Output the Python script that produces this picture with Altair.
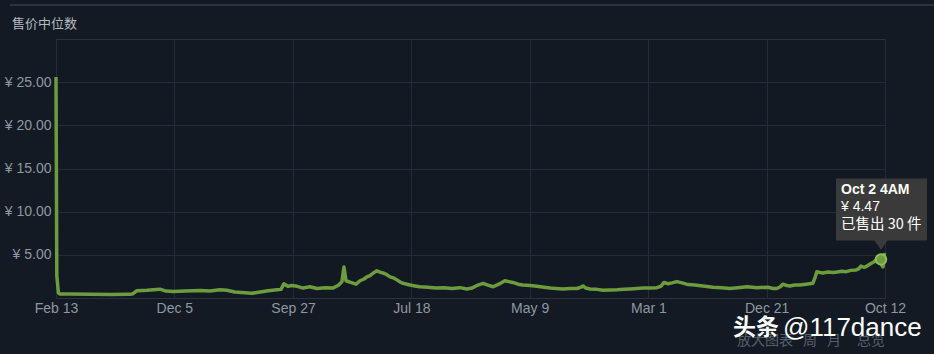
import altair as alt
import pandas as pd

# ---- data (days after 2018-02-13, median price in ¥) ----
start_date = "2018-02-13"
day_offsets = [0, 2, 6, 10, 35, 85, 135, 184, 192, 202, 227, 259, 274, 292, 322, 359, 384, 409, 426,
               446, 471, 489, 509, 529, 551, 561, 568, 578, 588, 601, 616, 633, 651, 671, 691, 705,
               713, 718, 723, 735, 748, 758, 768, 775, 783, 790, 800, 808, 815, 825, 833, 843, 850,
               858, 865, 875, 883, 895, 907, 927, 947, 967, 987, 1007, 1025, 1037, 1052, 1065, 1077,
               1090, 1104, 1119, 1129, 1139, 1152, 1164, 1182, 1199, 1217, 1232, 1246, 1264, 1281,
               1299, 1309, 1314, 1321, 1331, 1349, 1364, 1381, 1399, 1416, 1431, 1448, 1463, 1481,
               1498, 1508, 1516, 1526, 1536, 1548, 1561, 1576, 1593, 1613, 1638, 1660, 1680, 1700,
               1723, 1748, 1775, 1788, 1797, 1806, 1812, 1822, 1830, 1842, 1855, 1870, 1887, 1892,
               1897, 1905, 1912, 1925, 1937, 1947, 1960, 1970, 1982, 1995, 2002, 2007, 2015, 2022,
               2032, 2040, 2044, 2049, 2052, 2057, 2059, 2062, 2064, 2066]
prices = [25.6, 2.6, 0.6, 0.45, 0.45, 0.42, 0.40, 0.42, 0.5, 0.85, 0.9, 1.02, 0.8, 0.75, 0.82, 0.88,
          0.8, 0.95, 0.9, 0.7, 0.62, 0.55, 0.7, 0.85, 0.95, 1.0, 1.65, 1.35, 1.45, 1.35, 1.15, 1.3,
          1.1, 1.2, 1.15, 1.5, 1.9, 3.6, 2.0, 1.8, 1.6, 2.0, 2.2, 2.45, 2.6, 2.85, 3.15, 3.0, 2.9,
          2.7, 2.45, 2.3, 2.1, 1.85, 1.7, 1.6, 1.5, 1.4, 1.3, 1.25, 1.15, 1.2, 1.1, 1.2, 1.05, 1.15,
          1.5, 1.7, 1.5, 1.3, 1.6, 2.0, 1.9, 1.8, 1.6, 1.5, 1.45, 1.35, 1.25, 1.15, 1.1, 1.05, 1.1,
          1.1, 1.25, 1.4, 1.15, 1.05, 1.0, 0.9, 0.92, 0.95, 1.0, 1.05, 1.1, 1.15, 1.15, 1.2, 1.35,
          1.8, 1.65, 1.75, 1.9, 1.75, 1.55, 1.5, 1.4, 1.25, 1.2, 1.1, 1.2, 1.3, 1.2, 1.25, 1.1, 1.1,
          1.3, 1.6, 1.45, 1.4, 1.5, 1.5, 1.6, 1.7, 2.3, 3.05, 2.95, 2.9, 3.0, 2.95, 3.0, 3.1, 3.05,
          3.2, 3.25, 3.4, 3.7, 3.55, 3.7, 4.0, 4.2, 4.4, 4.5, 4.8, 4.47, 3.8, 3.6, 4.6, 5.2]

tick_dates = ["2018-02-13", "2018-12-05", "2019-09-27", "2020-07-18", "2021-05-09",
              "2022-03-01", "2022-12-21", "2023-10-12"]
y_ticks = [5, 10, 15, 20, 25]

hover_date = "2023-10-02"
hover_price = 4.47
hover_lines = ["Oct 2 4AM", "¥ 4.47", "已售出 30 件"]

title_text = "售价中位数"
footer_words = ["放大图表", "周", "月", "总览"]
wm_a = "头条"
wm_b = "@117dance"

# ---- build tables ----
df = pd.DataFrame({
    "date": pd.Timestamp(start_date) + pd.to_timedelta(day_offsets, unit="D"),
    "price": prices,
})
hover = pd.DataFrame({"date": [pd.Timestamp(hover_date)], "price": [hover_price]})


def dt(s):
    y, m, d = (int(p) for p in s.split("-"))
    return alt.DateTime(year=y, month=m, date=d)


BG = "#131a24"
GRID = "#232d39"
LABEL = "#8f98a0"
GREEN = "#6d9c3e"
TIPBG = "#3a3a3a"
LATIN = "Liberation Sans"
CJK = "Noto Sans CJK SC"

x_enc = alt.X("date:T",
              scale=alt.Scale(domain=[dt(tick_dates[0]), dt(tick_dates[-1])]),
              axis=alt.Axis(values=[dt(s) for s in tick_dates], format="%b %-d", title=None,
                            grid=True, gridColor=GRID, gridWidth=1, domain=False, ticks=False,
                            labelPadding=3, labelColor=LABEL, labelFontSize=14, labelFont=LATIN,
                            labelBaseline="top", labelFlush=False, labelOverlap=False))
y_enc = alt.Y("price:Q",
              scale=alt.Scale(domain=[0, 30], nice=False, zero=True),
              axis=alt.Axis(values=y_ticks, labelExpr="'¥ ' + format(datum.value, '.2f')",
                            title=None, grid=True, gridColor=GRID, gridWidth=1, domain=False,
                            ticks=False, labelPadding=5, labelColor=LABEL, labelFontSize=14,
                            labelFont=LATIN))

line = alt.Chart(df).mark_line(color=GREEN, strokeWidth=3.5, strokeJoin="round").encode(
    x=x_enc, y=y_enc)

marker = alt.Chart(hover).mark_point(shape="circle", filled=True, size=110, color=GREEN,
                                     stroke="#8fbf55", strokeWidth=2, opacity=1).encode(
    x="date:T", y="price:Q")

tip_box = alt.Chart(hover).mark_rect(color=TIPBG, xOffset=-45, x2Offset=46,
                                     yOffset=-81, y2Offset=-19).encode(
    x="date:T", x2="date:T", y="price:Q", y2="price:Q")

tip_arrow = alt.Chart(hover).mark_point(shape="M -1 -0.7 L 1 -0.7 L 0 0.7 Z", filled=True,
                                        size=196, color=TIPBG, opacity=1, yOffset=-14.6).encode(
    x="date:T", y="price:Q")

tip_t1 = alt.Chart(hover).mark_text(text=hover_lines[0], align="left", baseline="middle",
                                    dx=-40, dy=-69, fontSize=14, fontWeight="bold",
                                    font=LATIN, color="#ffffff").encode(x="date:T", y="price:Q")
tip_t2 = alt.Chart(hover).mark_text(text=hover_lines[1], align="left", baseline="middle",
                                    dx=-40, dy=-52, fontSize=14, font=LATIN,
                                    color="#ffffff").encode(x="date:T", y="price:Q")
tip_t3 = alt.Chart(hover).mark_text(text=hover_lines[2], align="left", baseline="middle",
                                    dx=-40, dy=-34, fontSize=14.5, font=CJK,
                                    color="#ffffff").encode(x="date:T", y="price:Q")

one = pd.DataFrame({"k": [0]})

top_rule = alt.Chart(one).mark_rule(color="#2a3440", strokeWidth=2).encode(
    x=alt.value(-46), x2=alt.value(878), y=alt.value(-34))

title = alt.Chart(one).mark_text(text=title_text, align="left", baseline="middle", fontSize=13,
                                 font=CJK, color="#b4bac0").encode(
    x=alt.value(-44), y=alt.value(-15))

footer_x = [681, 747, 771, 801]
footer_layers = [
    alt.Chart(one).mark_text(text=w, align="left", baseline="middle", fontSize=14,
                             font=CJK, color="#56606b").encode(
        x=alt.value(fx), y=alt.value(302))
    for w, fx in zip(footer_words, footer_x)
]

wm1 = alt.Chart(one).mark_text(text=wm_a, align="left", baseline="middle", fontSize=23,
                               fontWeight="bold", font=CJK, color="#ffffff").encode(
    x=alt.value(677), y=alt.value(289))
wm2 = alt.Chart(one).mark_text(text=wm_b, align="left", baseline="middle", fontSize=26,
                               font=LATIN, color="#ffffff").encode(
    x=alt.value(727), y=alt.value(289))

chart = alt.layer(
    line, marker, tip_box, tip_arrow, tip_t1, tip_t2, tip_t3,
    top_rule, title, *footer_layers, wm1, wm2
).properties(
    width=829, height=259,
    autosize=alt.AutoSizeParams(type="none"),
    padding={"left": 56, "top": 39, "right": 49, "bottom": 56},
    background=BG,
).configure_view(stroke="#29333f", strokeWidth=1, fill="#121923")

chart.save("out.html", embed_options={"renderer": "svg", "actions": False})
